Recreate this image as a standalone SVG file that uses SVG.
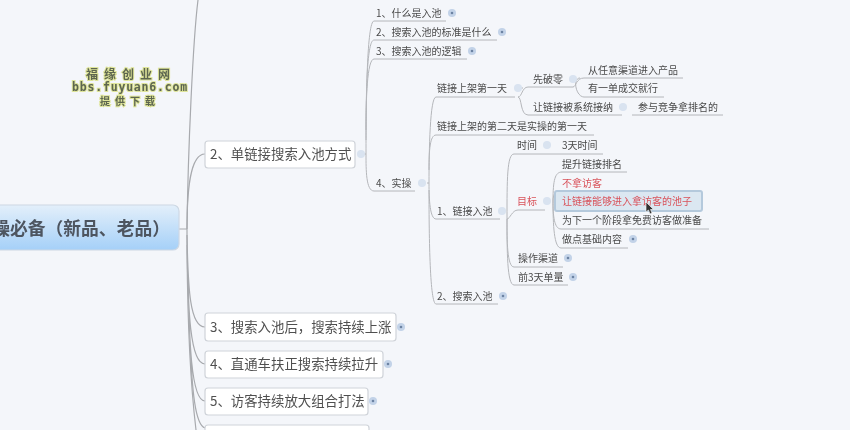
<svg xmlns="http://www.w3.org/2000/svg" width="850" height="430" viewBox="0 0 850 430">
<style>
text{font-family:"Noto Sans CJK SC","Noto Sans",sans-serif;fill:#4a4a4a}
.s{font-size:10px}
.m{font-size:13.4px;fill:#505050}
.r{fill:#d9525a}
.box{fill:#fff;stroke:#cfd3d9;stroke-width:1.2}
.c{fill:none;stroke:#b4b6ba;stroke-width:1}
.t{fill:none;stroke:#a8aaae;stroke-width:1.2}
.e{fill:#d9e3f0}
.p{fill:#c3d3e8}
.d{fill:#6c83a3}
.w{font-weight:700;fill:#5d6650;stroke:#dfe59a;stroke-width:2px;paint-order:stroke;text-anchor:middle}
</style>
<defs>
<linearGradient id="rootFill" x1="0" y1="0" x2="0" y2="1"><stop offset="0" stop-color="#e3effa"/><stop offset="1" stop-color="#a5d0f8"/></linearGradient>
<filter id="soft" x="0" y="0" width="1" height="1"><feGaussianBlur stdDeviation="0.4"/></filter>
<g id="plus"><circle r="4" class="p"/><circle r="1.3" class="d"/></g>
<circle id="minus" r="4" class="e"/>
</defs>
<rect width="850" height="430" fill="#f4f6fa"/>
<g filter="url(#soft)">
<g id="connectors">
<path class="t" d="M179 229H187M198 0C193 40 188 150 187 229C187 300 190 380 196 430"/>
<path class="t" d="M187 229C187 190 190 154 205 154M187 235C188 290 190 327 205 327M187 245C188 310 190 364 205 364M188 270C189 340 191 401 205 401M190 340C192 390 195 425 205 428"/>
<path class="c" d="M361 154H366M366 154C366 100 367 21 374 21H446M366 140C366 90 367 40 374 40H497M366 130C366 100 367 59 374 59H467M366 154C366 170 366 191 374 191H415"/>
<path class="c" d="M427 183H429M429 183C429 150 430 97 436 97H515M429 170C429 150 430 135 436 135H594M429 183C429 200 430 219 436 219H500M429 190C429 240 430 304 436 304H498"/>
<path class="c" d="M523 88H518M518 97C522 97 522 87 528 87H573M518 97C522 97 520 115 528 115H622M580 78C572 78 576 97 584 97H664M573 87C576 87 576 78 584 78H683M632 115H723"/>
<path class="c" d="M507 219C507 180 507 154 514 154H603M507 219C510 219 512 210 518 210H545M507 219C507 240 507 267 514 267H563M507 219C507 250 507 285 514 285H568"/>
<path class="c" d="M553 201C553 180 555 172 562 172H627M553 201C553 195 555 191 560 191H610M553 201C553 215 554 229 561 229H709M553 201C553 225 554 248 561 248H628"/>
</g>
<g id="root"><rect x="-20" y="205" width="199" height="45" rx="6" fill="url(#rootFill)" stroke="#cdd8e4" stroke-width="1.2"/><text x="170" y="235" text-anchor="end" style="font-size:17.8px;font-weight:700;fill:#4e5560">操必备（新品、老品）</text></g>
<g id="watermark"><text x="131" y="79" class="w" style="font-size:12px;letter-spacing:6px">福缘创业网</text><text x="130" y="91" class="w" style="font-size:11.500px;font-family:'DejaVu Sans Mono',monospace;letter-spacing:.8px">bbs.fuyuan6.com</text><text x="130" y="105" class="w" style="font-size:10px;letter-spacing:5px">提供下载</text></g>
<g id="n2"><rect class="box" x="205" y="141" width="150" height="27" rx="3"/><text class="m" x="210" y="159">2、单链接搜索入池方式</text><use href="#minus" x="361" y="154"/></g>
<g id="n3"><rect class="box" x="205" y="313" width="191" height="28" rx="3"/><text class="m" x="210" y="332">3、搜索入池后，搜索持续上涨</text><use href="#plus" x="401" y="327"/></g>
<g id="n4"><rect class="box" x="205" y="351" width="178" height="27" rx="3"/><text class="m" x="210" y="369">4、直通车扶正搜索持续拉升</text><use href="#plus" x="388" y="364"/></g>
<g id="n5"><rect class="box" x="205" y="388" width="163" height="27" rx="3"/><text class="m" x="210" y="406">5、访客持续放大组合打法</text><use href="#plus" x="373" y="401"/></g>
<g id="n6"><rect class="box" x="205" y="425" width="164" height="27" rx="3"/></g>
<g id="a1"><text class="s" x="376" y="17">1、什么是入池</text><use href="#plus" x="452" y="13"/></g>
<g id="a2"><text class="s" x="376" y="36">2、搜索入池的标准是什么</text><use href="#plus" x="502" y="32"/></g>
<g id="a3"><text class="s" x="376" y="55">3、搜索入池的逻辑</text><use href="#plus" x="472" y="51"/></g>
<g id="a4"><text class="s" x="376" y="187">4、实操</text><use href="#minus" x="422" y="183"/></g>
<g id="b1"><text class="s" x="437" y="92">链接上架第一天</text><use href="#minus" x="518" y="88"/></g>
<g id="b2"><text class="s" x="437" y="130">链接上架的第二天是实操的第一天</text></g>
<g id="b3"><text class="s" x="437" y="215">1、链接入池</text><use href="#minus" x="502" y="211"/></g>
<g id="b4"><text class="s" x="437" y="300">2、搜索入池</text><use href="#plus" x="503" y="296"/></g>
<g id="c1"><text class="s" x="533" y="83">先破零</text><use href="#minus" x="573" y="79"/></g>
<g id="c2"><text class="s" x="588" y="74">从任意渠道进入产品</text></g>
<g id="c3"><text class="s" x="588" y="92">有一单成交就行</text></g>
<g id="c4"><text class="s" x="533" y="111">让链接被系统接纳</text><use href="#minus" x="623" y="107"/></g>
<g id="c5"><text class="s" x="638" y="111">参与竞争拿排名的</text></g>
<g id="d1"><text class="s" x="517" y="149">时间</text><use href="#minus" x="547" y="145"/></g>
<g id="d2"><text class="s" x="562" y="149">3天时间</text></g>
<g id="d3"><text class="s r" x="517" y="205">目标</text><use href="#minus" x="547" y="201"/></g>
<g id="d4"><text class="s" x="518" y="262">操作渠道</text><use href="#plus" x="568" y="258"/></g>
<g id="d5"><text class="s" x="518" y="281">前3天单量</text><use href="#plus" x="573" y="277"/></g>
<g id="e1"><text class="s" x="562" y="168">提升链接排名</text></g>
<g id="e2"><text class="s r" x="562" y="187">不拿访客</text></g>
<g id="e3"><rect x="555" y="191" width="147" height="20" rx="2" fill="#dbe7f1" stroke="#b4c9dc" stroke-width="2"/><text class="s r" x="562" y="205">让链接能够进入拿访客的池子</text></g>
<g id="e4"><text class="s" x="562" y="224">为下一个阶段拿免费访客做准备</text></g>
<g id="e5"><text class="s" x="562" y="243">做点基础内容</text><use href="#plus" x="633" y="239"/></g>
<path id="cursor" d="M646 202V212L648.500 210L650 214L652 213L650.500 209.500H653.500Z" fill="#333" stroke="#fff" stroke-width=".6"/>
</g>
</svg>
